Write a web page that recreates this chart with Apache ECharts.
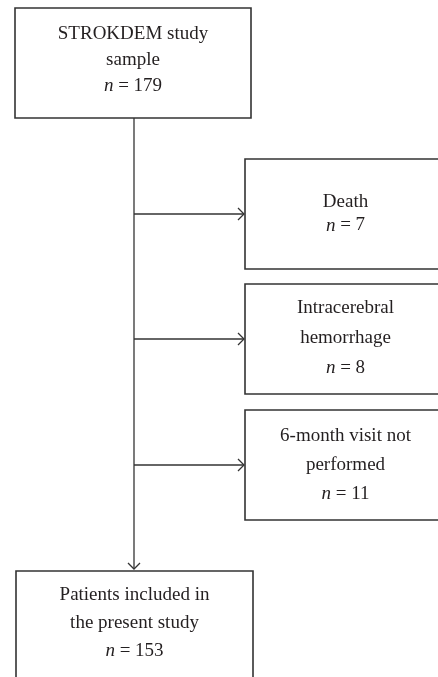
<!DOCTYPE html>
<html>
<head>
<meta charset="utf-8">
<script src="https://cdn.jsdelivr.net/npm/echarts@6/dist/echarts.min.js"></script>
<style>
  html, body { margin: 0; padding: 0; background: #fff; }
  #flow { width: 438px; height: 677px; }
</style>
</head>
<body>
<div id="flow"></div>
<script>
// box texts and counts
const boxTitles = ['STROKDEM study\nsample', 'Death', 'Intracerebral\nhemorrhage', '6-month visit not\nperformed', 'Patients included in\nthe present study']
const boxCounts = [179, 7, 8, 11, 153]
// 0 = source, 1 = excluded (side branch), 2 = final
const boxRoles = [0, 1, 1, 1, 2]

// layout (pixel space of the 438x677 page)
const boxLeft = [15, 245, 245, 245, 16]
const boxRight = [251, 446, 446, 446, 253]
const boxTop = [8, 159, 284, 410, 571]
const boxBottom = [118, 269, 394, 520, 700]
const textCenterY = [60, 214, 338, 465, 623]
const textLineHeight = [26, 23, 30, 29, 28]
const trunkX = 134

const chart = echarts.init(document.getElementById('flow'))

const boxData = boxTitles.map((t, i) => [i])

function renderBox(params, api) {
  const i = api.value(0)
  const p0 = api.coord([boxLeft[i], boxTop[i]])
  const p1 = api.coord([boxRight[i], boxBottom[i]])
  const c = api.coord([(boxLeft[i] + boxRight[i]) / 2, textCenterY[i]])
  return {
    type: 'group',
    children: [
      {
        type: 'rect',
        shape: { x: p0[0], y: p0[1], width: p1[0] - p0[0], height: p1[1] - p0[1] },
        style: { fill: '#fff', stroke: '#333', lineWidth: 1.6 }
      },
      {
        type: 'text',
        style: {
          text: boxTitles[i] + '\n{i|n} = ' + boxCounts[i],
          x: c[0],
          y: c[1],
          align: 'center',
          verticalAlign: 'middle',
          fill: '#231f20',
          fontFamily: 'Liberation Serif',
          fontSize: 19,
          lineHeight: textLineHeight[i],
          rich: {
            i: { fontStyle: 'italic', fontFamily: 'Liberation Serif', fontSize: 19, lineHeight: textLineHeight[i], fill: '#231f20' }
          }
        }
      }
    ]
  }
}

// connectors: trunk plus one arrow per box after the first
const linkData = boxRoles.map((r, i) => [i]).filter(d => boxRoles[d[0]] !== 0)

function renderLink(params, api) {
  const i = api.value(0)
  const children = []
  const lineStyle = { stroke: '#333', lineWidth: 1.3, fill: 'none' }
  const a = 6
  if (boxRoles[i] === 1) {
    const y = (boxTop[i] + boxBottom[i]) / 2
    const s = api.coord([trunkX, y])
    const e = api.coord([boxLeft[i] - 1, y])
    children.push({ type: 'line', shape: { x1: s[0], y1: s[1], x2: e[0], y2: e[1] }, style: lineStyle })
    children.push({ type: 'polyline', shape: { points: [[e[0] - a, e[1] - a], [e[0], e[1]], [e[0] - a, e[1] + a]] }, style: lineStyle })
  } else {
    const s = api.coord([trunkX, boxBottom[0]])
    const e = api.coord([trunkX, boxTop[i] - 2])
    children.push({ type: 'line', shape: { x1: s[0], y1: s[1], x2: e[0], y2: e[1] }, style: lineStyle })
    children.push({ type: 'polyline', shape: { points: [[e[0] - a, e[1] - a], [e[0], e[1]], [e[0] + a, e[1] - a]] }, style: lineStyle })
  }
  return { type: 'group', children }
}

const option = {
  backgroundColor: '#fff',
  animation: false,
  grid: { left: 0, right: 0, top: 0, bottom: 0 },
  xAxis: { type: 'value', min: 0, max: 438, show: false },
  yAxis: { type: 'value', min: 0, max: 677, inverse: true, show: false },
  series: [
    {
      type: 'custom',
      name: 'links',
      renderItem: renderLink,
      data: linkData,
      clip: true,
      z: 1
    },
    {
      type: 'custom',
      name: 'boxes',
      renderItem: renderBox,
      data: boxData,
      clip: true,
      z: 2
    }
  ]
}
chart.setOption(option)
</script>
</body>
</html>
